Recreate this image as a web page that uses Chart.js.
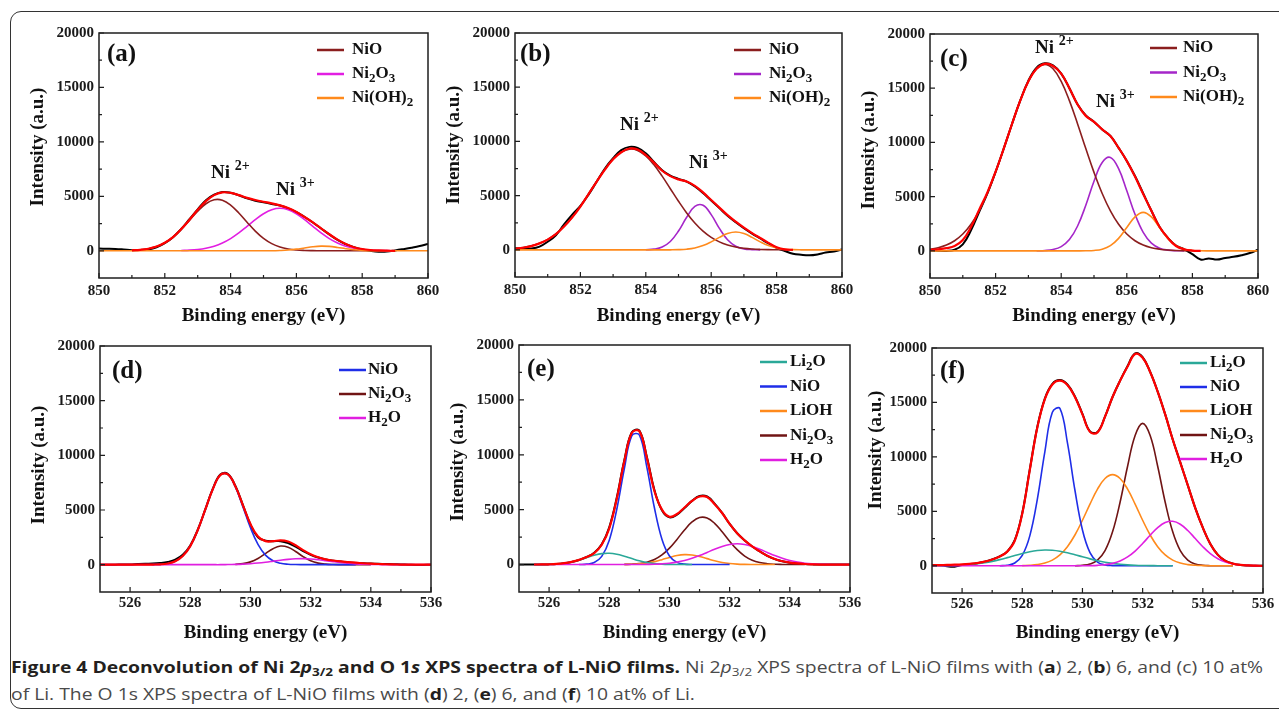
<!DOCTYPE html>
<html>
<head>
<meta charset="utf-8">
<script src="https://cdn.jsdelivr.net/npm/chart.js@4.4.1/dist/chart.umd.min.js"></script>
<style>
  body { margin: 0; background: #fff; width: 1279px; height: 711px; overflow: hidden; position: relative; }
  #frame { position: absolute; left: 10px; top: 11px; width: 1300px; height: 698px; border: 1.5px solid #333; border-radius: 11px; box-sizing: border-box; }
  canvas { position: absolute; }
  #caption { position: absolute; left: 11px; top: 654px; font-family: "Open Sans", sans-serif; font-size: 15.5px; line-height: 27px; color: #4a4a4a; white-space: nowrap; transform-origin: 0 0; }
  #caption b { color: #231f20; font-weight: 700; }
  #caption sub { font-size: 0.7em; vertical-align: -0.3em; line-height: 0; }
</style>
</head>
<body>
<div id="frame"></div>
<div id="caption"><span id="cap1"><b>Figure 4 Deconvolution of Ni 2<i>p</i><sub>3/2</sub> and O 1<i>s</i> XPS spectra of L-NiO films.</b> Ni 2<i>p</i><sub>3/2</sub> XPS spectra of L-NiO films with (<b>a</b>) 2, (<b>b</b>) 6, and (c) 10 at%</span><br><span>of Li. The O 1s XPS spectra of L-NiO films with (<b>d</b>) 2, (<b>e</b>) 6, and (<b>f</b>) 10 at% of Li.</span></div>
<script>
// binding energy grids (eV)
const topEnergy = [850,850.25,850.5,850.75,851,851.25,851.5,851.75,852,852.25,852.5,852.75,853,853.25,853.5,853.75,854,854.25,854.5,854.75,855,855.25,855.5,855.75,856,856.25,856.5,856.75,857,857.25,857.5,857.75,858,858.25,858.5,858.75,859,859.25,859.5,859.75,860];
const bottomEnergy = [525,525.25,525.5,525.75,526,526.25,526.5,526.75,527,527.25,527.5,527.75,528,528.25,528.5,528.75,529,529.25,529.5,529.75,530,530.25,530.5,530.75,531,531.25,531.5,531.75,532,532.25,532.5,532.75,533,533.25,533.5,533.75,534,534.25,534.5,534.75,535,535.25,535.5,535.75,536];

const topTicks = [850, 852, 854, 856, 858, 860];
const bottomTicks = [526, 528, 530, 532, 534, 536];
const intensityTicks = [0, 5000, 10000, 15000, 20000];

// (a) Ni 2p3/2, 2 at%
const aRaw = [200,190,170,120,60,70,120,320,700,1250,2000,2900,3800,4650,5150,5400,5330,5100,4820,4600,4450,4300,4150,3900,3550,3100,2600,2050,1500,1000,600,330,130,0,-80,-70,30,150,280,430,620];
const aFit = [null,null,null,null,40,90,190,390,740,1260,1990,2850,3760,4560,5110,5360,5320,5110,4860,4660,4500,4360,4170,3920,3560,3100,2600,2060,1520,1020,620,330,160,70,30,10,0,null,null,null,null];
const aNiO = [null,null,null,null,35,86,193,394,737,1258,1962,2794,3635,4319,4686,4644,4202,3473,2622,1808,1138,655,344,165,72,29,10,0,0,0,0,0,0,0,0,null,null,null,null,null,null];
const aNi2O3 = [null,null,null,null,null,null,null,null,null,null,27,59,122,236,425,715,1121,1641,2241,2856,3396,3767,3900,3767,3396,2856,2241,1641,1121,715,425,236,122,59,27,11,4,null,null,null,null];
const aNiOH2 = [0,0,0,0,0,0,0,0,0,0,0,0,0,0,0,0,0,0,0,0,0,0,26,70,149,261,371,428,402,308,191,97,40,13,4,0,0,0,0,0,0];

// (b) Ni 2p3/2, 6 at%
const bRaw = [150,100,120,300,750,1350,2350,3250,4050,5100,6300,7500,8450,9200,9500,9400,8900,8100,7350,6850,6550,6300,5850,5250,4550,3850,3150,2550,2000,1500,1050,600,200,-100,-350,-450,-500,-420,-250,-150,50];
const bFit = [100,200,350,600,950,1450,2150,3000,4000,5150,6300,7400,8350,9000,9350,9250,8750,8050,7300,6800,6500,6300,5900,5300,4600,3900,3200,2600,2050,1550,1100,650,250,50,0,null,null,null,null,null,null];
const bNiO = [117,212,368,611,973,1481,2161,3020,4038,5172,6342,7447,8373,9014,9292,9172,8668,7845,6798,5641,4482,3409,2484,1733,1157,740,453,266,149,80,41,20,10,4,0,null,null,null,null,null,null];
const bNi2O3 = [null,null,null,null,null,null,null,null,null,null,null,null,null,null,null,null,14,71,267,777,1742,3009,4008,4113,3254,1984,932,338,94,20,4,null,null,null,null,null,null,null,null,null,null];
const bNiOH2 = [0,0,0,0,0,0,0,0,0,0,0,0,0,0,0,0,0,0,0,5,21,66,177,396,739,1155,1509,1650,1509,1155,739,396,177,66,21,5,0,0,0,0,0];

// (c) Ni 2p3/2, 10 at%
const cRaw = [80,20,0,100,600,1900,3600,5300,7300,9450,11700,13850,15700,16900,17300,17100,16350,15000,13500,12500,11900,11200,10600,9500,8300,6900,5300,3700,2200,1200,500,150,-300,-800,-700,-800,-650,-550,-400,-200,100];
const cFit = [100,150,250,450,1000,2200,3800,5400,7300,9450,11700,13850,15650,16800,17250,17050,16350,15000,13500,12450,11900,11200,10600,9500,8300,6850,5250,3700,2200,1200,450,150,30,0,null,null,null,null,null,null,null];
const cNiO = [155,296,540,938,1554,2455,3693,5296,7241,9431,11708,13855,15623,16791,17200,16791,15623,13855,11708,9431,7241,5296,3693,2455,1554,938,540,296,155,77,37,17,7,0,null,null,null,null,null,null,null];
const cNi2O3 = [null,null,null,null,null,null,null,null,null,null,null,null,null,7,32,124,393,1041,2294,4208,6423,8156,8618,7577,5544,3375,1710,721,253,74,18,4,null,null,null,null,null,null,null,null,null];
const cNiOH2 = [0,0,0,0,0,0,0,0,0,0,0,0,0,0,0,0,0,0,0,8,39,156,480,1153,2153,3133,3550,3133,2153,1153,480,156,39,8,0,0,0,0,0,0,0];

// (d) O 1s, 2 at%
const dRaw = [0,0,0,10,20,60,90,100,150,250,450,900,1750,3200,5050,6950,8250,8300,7200,5450,3650,2500,2200,2150,2150,1980,1650,1250,900,650,480,350,280,200,150,120,100,80,60,40,20,0,-20,-20,-10];
const dFit = [0,0,0,0,0,0,0,10,30,110,310,790,1700,3170,5050,6910,8200,8250,7160,5430,3720,2570,2150,2150,2230,2120,1780,1330,950,680,480,380,300,240,180,130,90,60,40,20,10,0,0,0,0];
const dNiO = [null,null,null,null,null,null,null,8,31,107,313,789,1705,3167,5049,6911,8200,8260,7103,5285,3376,1851,872,353,122,37,10,3,0,0,0,0,0,0,0,null,null,null,null,null,null,null,null,null,null];
const dNi2O3 = [null,null,null,null,null,null,null,null,null,null,null,null,null,null,null,null,null,null,27,93,255,567,1016,1464,1703,1596,1206,735,361,143,46,12,3,0,0,0,0,null,null,null,null,null,null,null,null];
const dH2O = [0,0,0,0,0,0,0,0,0,0,0,0,0,0,0,0,0,13,27,51,90,148,224,313,405,485,536,549,520,455,369,276,191,123,73,40,20,10,0,0,0,0,0,0,0];

// (e) O 1s, 6 at%
const eRaw = [0,0,0,0,20,50,120,240,420,690,1080,1850,3400,6100,9500,12050,12200,9800,6800,4950,4300,4550,5150,5800,6250,6200,5550,4700,3700,2850,2200,1650,1200,800,500,300,170,100,50,20,0,0,0,0,0];
const eFit = [null,null,5,10,25,60,130,250,430,680,1050,1800,3300,6000,9400,12000,12150,9700,6700,5000,4350,4600,5200,5800,6200,6150,5500,4700,3700,2850,2200,1650,1200,800,500,300,180,100,50,20,0,0,0,0,0];
const eLi2O = [null,null,3,8,23,58,126,245,420,634,845,994,1032,946,765,546,343,191,94,41,15,5,0,0,null,null,null,null,null,null,null,null,null,null,null,null,null,null,null,null,null,null,null,null,null];
const eNiO = [null,null,null,null,null,null,null,null,5,37,190,743,2217,5035,8716,11750,11800,8859,5173,2302,780,202,40,6,0,0,0,0,0,null,null,null,null,null,null,null,null,null,null,null,null,null,null,null,null];
const eLiOH = [null,null,null,null,null,null,null,null,null,null,null,null,null,null,9,26,65,141,268,446,647,820,906,875,737,542,348,195,96,41,15,4,0,0,0,null,null,null,null,null,null,null,null,null,null];
const eNi2O3 = [null,null,null,null,null,null,null,null,null,null,null,null,null,null,12,34,90,215,457,873,1495,2292,3150,3880,4282,4236,3754,2982,2123,1354,774,397,182,75,28,10,3,0,0,null,null,null,null,null,null];
const eH2O = [null,null,0,0,0,0,0,0,0,0,0,0,0,0,0,0,0,15,32,66,124,220,364,564,816,1104,1397,1652,1828,1890,1828,1652,1397,1104,816,564,364,220,124,66,32,15,6,0,0];

// (f) O 1s, 10 at%
const fRaw = [60,50,-50,-80,80,150,240,370,580,860,1300,2350,4850,8850,12750,15350,16700,17050,16650,15550,13950,12350,12300,13700,15500,17000,18350,19500,19150,17800,16000,13900,11600,9500,7400,5300,3500,2000,1000,450,200,80,30,10,0];
const fFit = [50,60,80,100,130,180,250,380,580,850,1300,2300,4800,8800,12700,15300,16650,17000,16600,15500,13900,12300,12250,13700,15500,17000,18300,19450,19100,17800,16000,13900,11600,9500,7400,5300,3500,2000,1000,450,200,80,30,10,0];
const fLi2O = [5,10,20,38,67,113,182,279,407,565,747,941,1128,1288,1400,1449,1427,1339,1197,1018,824,636,467,326,217,138,83,48,26,14,7,3,0,null,null,null,null,null,null,null,null,null,null,null,null];
const fNiO = [null,null,null,null,null,null,null,null,null,9,54,258,957,2748,6101,10469,14100,14450,11308,6937,3291,1206,342,75,13,0,0,0,0,0,0,0,0,null,null,null,null,null,null,null,null,null,null,null,null];
const fLiOH = [null,null,null,null,null,null,null,null,null,null,null,null,16,44,109,249,521,998,1754,2828,4180,5664,7036,8014,8370,8014,7036,5664,4180,2828,1754,998,521,249,109,44,16,5,0,0,0,null,null,null,null];
const fNi2O3 = [null,null,null,null,null,null,null,null,null,null,null,null,null,null,null,null,null,null,null,9,42,161,518,1390,3116,5836,9138,11958,13080,11958,9138,5836,3116,1390,518,161,42,9,0,0,0,null,null,null,null];
const fH2O = [0,0,0,0,0,0,0,0,0,0,0,0,0,0,0,0,0,0,0,0,5,15,40,99,220,443,812,1351,2043,2806,3500,3966,4082,3816,3241,2500,1752,1115,645,338,161,70,28,10,4];

const topLegend = ['NiO', 'Ni_2O_3', 'Ni(OH)_2'];
const dLegend = ['NiO', 'Ni_2O_3', 'H_2O'];
const efLegend = ['Li_2O', 'NiO', 'LiOH', 'Ni_2O_3', 'H_2O'];

const C = {
  fit: '#ff0000', raw: '#000000', niTop: '#8b1e1e', magA: '#e21ee2', purple: '#a526c9',
  orange: '#ff8a1c', blue: '#1f2ee8', teal: '#2aa898', brown: '#701414', magenta: '#e01fe0'
};

// plot box [left, top, right, bottom] in page px; decorations in page px
const panels = [
  { tag: '(a)', plot: [99, 33, 428, 278], range: [850, 860], energy: topEnergy, ticks: topTicks,
    raw: aRaw, fit: aFit, parts: [aNiOH2, aNiO, aNi2O3], partColors: [C.orange, C.niTop, C.magA],
    legend: topLegend, legendColors: [C.niTop, C.magA, C.orange], legendAt: [317, 352, 50, 24],
    notes: [['2+', 211, 173], ['3+', 276, 190]], tagAt: [107, 55], yTitle: [38, 147], xTitleY: 316, tickPad: 4 },
  { tag: '(b)', plot: [515, 33, 842, 277], range: [850, 860], energy: topEnergy, ticks: topTicks,
    raw: bRaw, fit: bFit, parts: [bNiOH2, bNiO, bNi2O3], partColors: [C.orange, C.niTop, C.purple],
    legend: topLegend, legendColors: [C.niTop, C.purple, C.orange], legendAt: [734, 769, 50, 24],
    notes: [['2+', 620, 125], ['3+', 689, 163]], tagAt: [520, 55], yTitle: [454, 145], xTitleY: 316, tickPad: 4 },
  { tag: '(c)', plot: [930, 34, 1258, 278], range: [850, 860], energy: topEnergy, ticks: topTicks,
    raw: cRaw, fit: cFit, parts: [cNiOH2, cNiO, cNi2O3], partColors: [C.orange, C.niTop, C.purple],
    legend: topLegend, legendColors: [C.niTop, C.purple, C.orange], legendAt: [1150, 1183, 48, 24.5],
    notes: [['2+', 1035, 48], ['3+', 1096, 102]], tagAt: [940, 60], yTitle: [869, 150], xTitleY: 316, tickPad: 4 },
  { tag: '(d)', plot: [100, 346, 431, 592], range: [525, 536], energy: bottomEnergy, ticks: bottomTicks,
    raw: dRaw, fit: dFit, parts: [dH2O, dNiO, dNi2O3], partColors: [C.magenta, C.blue, C.brown],
    legend: dLegend, legendColors: [C.blue, C.brown, C.magenta], legendAt: [339, 368, 370, 24],
    notes: [], tagAt: [112, 372], yTitle: [39, 465], xTitleY: 633, tickPad: 2 },
  { tag: '(e)', plot: [519, 345, 850, 592], range: [525, 536], energy: bottomEnergy, ticks: bottomTicks,
    raw: eRaw, fit: eFit, parts: [eH2O, eLi2O, eNiO, eLiOH, eNi2O3], partColors: [C.magenta, C.teal, C.blue, C.orange, C.brown],
    legend: efLegend, legendColors: [C.teal, C.blue, C.orange, C.brown, C.magenta], legendAt: [760, 790, 362, 24.5],
    notes: [], tagAt: [527, 370], yTitle: [458, 462], xTitleY: 633, tickPad: 2 },
  { tag: '(f)', plot: [932, 348, 1263, 593], range: [525, 536], energy: bottomEnergy, ticks: bottomTicks,
    raw: fRaw, fit: fFit, parts: [fH2O, fLi2O, fNiO, fLiOH, fNi2O3], partColors: [C.magenta, C.teal, C.blue, C.orange, C.brown],
    legend: efLegend, legendColors: [C.teal, C.blue, C.orange, C.brown, C.magenta], legendAt: [1180, 1210, 363, 24],
    notes: [], tagAt: [940, 372], yTitle: [876, 450], xTitleY: 633, tickPad: 2 }
];

const SERIF = '"Liberation Serif", "Times New Roman", serif';

// text with '_' marking the next character as a subscript
function richText(ctx, str, x, y) {
  let cx = x;
  for (let i = 0; i < str.length; i++) {
    let ch = str[i], sub = false;
    if (ch === '_') { sub = true; ch = str[++i]; }
    ctx.font = 'bold ' + (sub ? 13 : 17) + 'px ' + SERIF;
    ctx.fillText(ch, cx, y + (sub ? 5 : 0));
    cx += ctx.measureText(ch).width;
  }
}

function makeDecor(p) {
  const ox = p.plot[0] - 95, oy = p.plot[1] - 15;
  return {
    id: 'decor',
    afterDraw(chart) {
      const { ctx, chartArea: a, scales: { x, y } } = chart;
      ctx.save();
      ctx.strokeStyle = '#1e1e1e';
      ctx.lineWidth = 1.5;
      ctx.strokeRect(a.left, a.top, a.right - a.left, a.bottom - a.top);

      // inward tick marks, minor ones half way
      ctx.lineWidth = 1.2;
      ctx.beginPath();
      p.ticks.forEach((v, i) => {
        const px = x.getPixelForValue(v);
        ctx.moveTo(px, a.bottom); ctx.lineTo(px, a.bottom - 5);
        if (i) {
          const m = x.getPixelForValue((v + p.ticks[i - 1]) / 2);
          ctx.moveTo(m, a.bottom); ctx.lineTo(m, a.bottom - 3);
        }
      });
      intensityTicks.forEach((v, i) => {
        const py = y.getPixelForValue(v);
        ctx.moveTo(a.left, py); ctx.lineTo(a.left + 5, py);
        if (i) {
          const m = y.getPixelForValue((v + intensityTicks[i - 1]) / 2);
          ctx.moveTo(a.left, m); ctx.lineTo(a.left + 3, m);
        }
      });
      ctx.stroke();

      // axis titles
      ctx.fillStyle = '#111';
      ctx.textAlign = 'center';
      ctx.textBaseline = 'middle';
      ctx.font = 'bold 19px ' + SERIF;
      ctx.fillText('Binding energy (eV)', (a.left + a.right) / 2, p.xTitleY - oy);
      ctx.save();
      ctx.translate(p.yTitle[0] - ox, p.yTitle[1] - oy);
      ctx.rotate(-Math.PI / 2);
      ctx.fillText('Intensity (a.u.)', 0, 0);
      ctx.restore();

      // panel tag
      ctx.textAlign = 'left';
      ctx.font = 'bold 25px ' + SERIF;
      ctx.fillText(p.tag, p.tagAt[0] - ox, p.tagAt[1] - oy);

      // Ni 2+ / Ni 3+ notes
      p.notes.forEach(([sup, X, Y]) => {
        ctx.font = 'bold 19px ' + SERIF;
        ctx.fillText('Ni', X - ox, Y - oy);
        const w = ctx.measureText('Ni ').width;
        ctx.font = 'bold 14px ' + SERIF;
        ctx.fillText(sup, X - ox + w, Y - oy - 7);
      });

      // legend
      const [lx, tx, ly, dy] = p.legendAt;
      p.legend.forEach((name, i) => {
        const yy = ly + dy * i - oy;
        ctx.strokeStyle = p.legendColors[i];
        ctx.lineWidth = 2.5;
        ctx.beginPath();
        ctx.moveTo(lx - ox, yy); ctx.lineTo(lx - ox + 27, yy);
        ctx.stroke();
        richText(ctx, name, tx - ox, yy);
      });
      ctx.restore();
    }
  };
}

function buildPanel(p) {
  const [L, T, R, B] = p.plot;
  const w = R - L + 110, h = B - T + 70;
  const cv = document.createElement('canvas');
  cv.width = w; cv.height = h;
  cv.style.left = (L - 95) + 'px'; cv.style.top = (T - 15) + 'px';
  cv.style.width = w + 'px'; cv.style.height = h + 'px';
  document.body.appendChild(cv);

  const line = (ys, color, width) => ({
    data: p.energy.map((e, i) => ({ x: e, y: ys[i] })),
    borderColor: color, borderWidth: width, pointRadius: 0,
    tension: 0.4, fill: false, spanGaps: false
  });
  // first dataset is drawn on top
  const datasets = [line(p.fit, C.fit, 2.2)]
    .concat(p.parts.map((s, i) => line(s, p.partColors[i], 1.6)))
    .concat([line(p.raw, C.raw, 2)]);

  const tickFont = { family: SERIF, size: 15, weight: 'bold' };
  new Chart(cv, {
    type: 'line',
    data: { datasets },
    options: {
      responsive: false, animation: false, devicePixelRatio: 1, events: [],
      layout: { padding: { left: 0, top: 15, right: 15, bottom: 0 } },
      plugins: { legend: { display: false }, tooltip: { enabled: false } },
      scales: {
        x: {
          type: 'linear', position: 'bottom', min: p.range[0], max: p.range[1],
          afterBuildTicks: ax => { ax.ticks = p.ticks.map(v => ({ value: v })); },
          afterFit: ax => { ax.height = 55; ax.paddingLeft = 0; ax.paddingRight = 0; },
          grid: { display: false, drawTicks: false }, border: { display: false },
          ticks: { padding: p.tickPad, font: tickFont, color: '#1a1a1a', maxRotation: 0, autoSkip: false, callback: v => String(v) }
        },
        y: {
          type: 'linear', min: -2500, max: 20000,
          afterBuildTicks: ax => { ax.ticks = intensityTicks.map(v => ({ value: v })); },
          afterFit: ax => { ax.width = 95; ax.paddingTop = 0; ax.paddingBottom = 0; },
          grid: { display: false, drawTicks: false }, border: { display: false },
          ticks: { padding: 5, font: tickFont, color: '#1a1a1a', callback: v => String(v) }
        }
      }
    },
    plugins: [makeDecor(p)]
  });
}

panels.forEach(buildPanel);

// stretch caption so the first line spans the frame like the original
const cap = document.getElementById('caption');
const capWidth = document.getElementById('cap1').getBoundingClientRect().width;
cap.style.transform = 'scaleX(' + (1252 / capWidth) + ')';
</script>
</body>
</html>
